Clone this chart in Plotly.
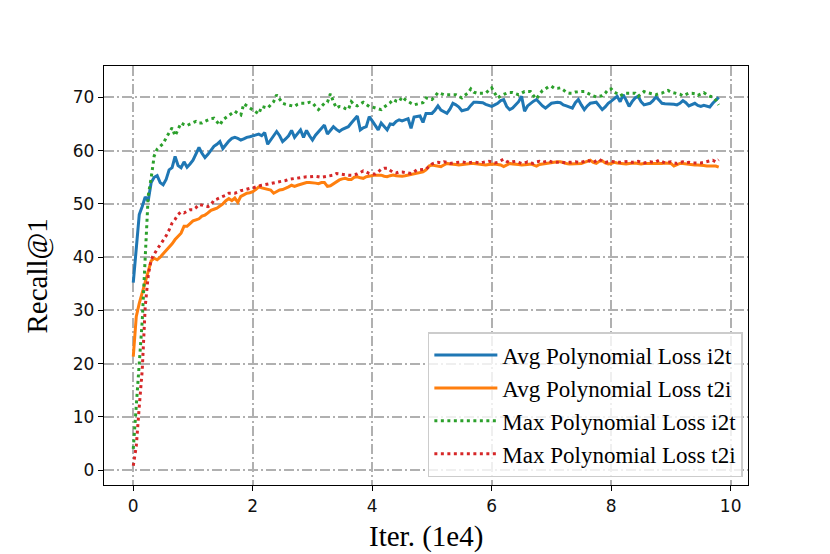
import numpy as np
import plotly.graph_objects as go

# iterations (x 1e4), one reading every 500 iterations
iters = np.round(np.arange(0, 9.81, 0.05), 2)

avg_i2t = [
    35.2, 42.5, 48.0, 49.5, 51.3, 50.6, 54.0, 55.0, 55.3, 54.0,
    53.6, 54.6, 56.4, 56.8, 58.9, 57.2, 56.8, 57.9, 56.9, 57.5,
    58.2, 59.4, 60.6, 59.5, 58.7, 59.3, 60.1, 60.8, 61.2, 61.7,
    60.4, 61.2, 61.8, 62.3, 62.5, 62.3, 62.0, 62.2, 62.5, 62.6,
    62.8, 62.9, 63.1, 62.8, 63.4, 61.2, 62.0, 62.6, 63.6, 62.8,
    61.7, 62.2, 62.8, 63.8, 62.5, 63.2, 63.9, 62.5, 63.8, 62.8,
    62.0, 62.9, 63.5, 64.3, 64.8, 63.1, 63.8, 64.5, 64.0, 63.6,
    64.0, 64.2, 64.5, 65.2, 65.8, 66.5, 63.9, 64.3, 64.5, 66.4,
    65.6, 64.8, 63.9, 65.2, 64.6, 63.9, 65.0, 64.9, 65.5, 65.8,
    65.6, 65.8, 66.0, 64.2, 66.3, 66.4, 66.5, 65.3, 67.0, 67.0,
    67.0, 67.6, 68.4, 67.6, 67.3, 67.0, 67.8, 68.9, 68.6, 68.2,
    67.5, 67.6, 67.8, 68.5, 69.1, 69.1, 69.1, 69.0, 68.7, 68.5,
    68.3, 68.6, 68.9, 69.4, 69.6, 68.3, 67.7, 68.0, 68.6, 69.2,
    70.2, 67.4, 68.4, 68.9, 69.3, 69.6, 68.9, 68.4, 68.0, 68.4,
    68.9, 69.0, 69.1, 69.0, 68.6, 68.4, 68.2, 68.0, 69.0, 69.6,
    68.6, 67.7, 68.4, 68.9, 69.0, 69.1, 68.4, 67.7, 68.2, 68.9,
    69.3, 69.8, 70.2, 69.2, 70.5, 69.5, 68.3, 69.2, 69.9, 70.2,
    69.2, 68.6, 68.7, 68.9, 69.4, 70.1, 69.5, 68.9, 68.8, 68.8,
    68.8, 68.7, 68.6, 68.9, 69.4, 69.0, 68.4, 68.7, 68.9, 68.5,
    68.3, 68.5, 68.4, 68.2, 68.9, 69.4, 70.0,
]

avg_t2i = [
    21.3, 28.8, 31.3, 33.2, 35.5, 37.3, 39.3, 39.8, 39.5, 40.0,
    40.6, 41.1, 41.7, 42.5, 43.3, 44.0, 44.5, 45.8, 45.8, 46.3,
    46.8, 47.0, 47.2, 47.7, 47.9, 48.3, 48.8, 49.0, 49.2, 49.6,
    50.0, 50.6, 51.0, 50.6, 51.1, 50.3, 51.4, 51.7, 52.0, 52.1,
    52.3, 52.7, 53.2, 53.0, 52.9, 52.7, 52.6, 52.0, 52.3, 52.6,
    52.7, 52.9, 53.2, 53.5, 53.3, 53.5, 53.7, 53.8, 54.0, 54.0,
    54.0, 53.9, 53.8, 54.0, 54.0, 53.3, 53.4, 53.8, 54.2, 54.5,
    54.7, 54.8, 54.6, 54.6, 55.0, 55.1, 54.9, 54.8, 55.1, 55.2,
    55.4, 55.4, 55.4, 55.4, 55.2, 55.1, 55.3, 55.4, 55.3, 55.2,
    55.2, 55.3, 55.4, 55.5, 55.6, 55.7, 55.8, 56.0, 56.4, 57.1,
    57.3, 57.2, 57.1, 57.0, 57.3, 57.6, 57.5, 57.5, 57.4, 57.3,
    57.4, 57.5, 57.5, 57.6, 57.6, 57.5, 57.5, 57.4, 57.3, 57.4,
    57.5, 57.5, 57.4, 57.3, 57.0, 57.3, 57.6, 57.5, 57.5, 57.4,
    57.3, 57.3, 57.4, 57.5, 57.3, 57.1, 57.4, 57.5, 57.6, 57.7,
    57.8, 57.9, 57.9, 57.9, 57.7, 57.6, 57.5, 57.5, 57.5, 57.6,
    57.6, 57.8, 58.0, 58.2, 57.8, 57.6, 58.0, 58.1, 57.7, 57.5,
    57.6, 57.8, 57.7, 57.6, 57.5, 57.5, 57.6, 57.7, 57.7, 57.6,
    57.5, 57.6, 57.6, 57.6, 57.5, 57.5, 57.6, 57.6, 57.7, 57.7,
    57.6, 57.1, 57.3, 57.6, 57.6, 57.5, 57.5, 57.4, 57.3, 57.3,
    57.3, 57.2, 57.1, 57.1, 57.2, 57.1, 56.9,
]

max_i2t = [
    4.0, 12.5, 20.7, 28.0, 40.0, 51.5, 54.9, 59.0, 60.3, 60.8,
    61.3, 62.4, 63.5, 64.3, 62.8, 64.0, 65.2, 64.9, 64.7, 65.0,
    65.3, 65.5, 65.2, 65.2, 65.5, 65.8, 66.0, 66.1, 65.5, 64.8,
    65.8, 66.2, 66.7, 67.1, 67.4, 67.0, 66.7, 68.8, 68.4, 68.0,
    67.6, 67.2, 66.9, 68.3, 68.1, 68.0, 68.6, 69.2, 70.5, 69.7,
    68.9, 68.7, 68.6, 68.4, 68.3, 68.7, 68.9, 68.9, 68.9, 69.1,
    69.0, 68.3, 67.7, 68.3, 68.9, 69.1, 70.7, 69.2, 68.0, 68.3,
    68.2, 67.9, 67.7, 69.2, 68.6, 68.4, 68.8, 69.1, 68.7, 68.3,
    68.2, 68.0, 67.9, 67.7, 68.2, 68.6, 69.0, 69.6, 69.3, 69.2,
    70.1, 69.6, 69.2, 68.9, 68.6, 68.8, 68.9, 69.0, 69.9, 69.8,
    69.6, 70.2, 70.9, 70.7, 70.5, 70.5, 70.5, 70.5, 70.5, 70.2,
    69.9, 70.4, 70.8, 71.6, 71.0, 70.8, 70.8, 70.8, 70.8, 71.3,
    71.8, 70.8, 69.9, 70.3, 70.6, 70.8, 70.9, 70.9, 70.7, 70.5,
    70.8, 71.1, 71.1, 71.1, 70.3, 69.7, 70.6, 71.3, 71.6, 72.0,
    72.1, 71.7, 71.7, 71.8, 71.4, 70.9, 70.8, 70.8, 71.0, 71.1,
    71.1, 71.1, 70.8, 70.5, 70.3, 70.1, 70.2, 70.3, 70.8, 71.5,
    71.6, 71.0, 70.7, 70.3, 70.6, 70.8, 70.8, 70.8, 70.8, 70.2,
    70.6, 71.1, 70.9, 70.8, 70.6, 70.5, 70.7, 70.8, 71.1, 71.3,
    71.0, 70.9, 70.8, 70.6, 70.3, 70.6, 70.8, 70.8, 70.7, 70.4,
    70.6, 70.9, 70.5, 70.2, 70.1, 69.5, 68.6,
]

max_t2i = [
    0.8, 4.5, 11.9, 18.8, 30.7, 36.5, 39.6, 40.7, 41.5, 42.3,
    43.1, 44.0, 45.1, 46.4, 47.1, 48.0, 48.5, 48.3, 48.6, 48.9,
    48.9, 49.3, 49.9, 49.8, 49.6, 49.5, 49.8, 50.7, 50.9, 51.2,
    51.4, 51.6, 52.0, 52.0, 52.0, 52.2, 52.5, 52.6, 52.8, 52.9,
    53.0, 53.2, 53.3, 53.5, 53.6, 53.7, 53.8, 54.0, 54.0, 54.2,
    54.3, 54.4, 54.6, 54.7, 54.8, 54.9, 55.0, 55.0, 55.1, 55.1,
    55.2, 55.2, 55.1, 55.0, 55.1, 55.2, 55.3, 55.4, 55.7, 55.6,
    55.5, 55.4, 55.4, 55.4, 55.5, 55.6, 55.9, 56.2, 56.0, 55.7,
    55.6, 55.6, 56.0, 56.5, 56.7, 56.7, 56.3, 55.9, 55.8, 56.0,
    56.0, 55.9, 55.8, 55.7, 56.0, 56.4, 56.4, 56.5, 56.5, 57.0,
    57.5, 57.7, 57.8, 57.7, 57.9, 57.8, 57.6, 57.7, 57.8, 57.8,
    57.9, 57.8, 57.7, 57.8, 57.9, 57.8, 57.7, 57.8, 57.9, 58.0,
    57.9, 57.7, 57.8, 58.1, 58.4, 58.0, 57.8, 57.9, 58.0, 57.8,
    57.6, 57.7, 57.9, 57.7, 57.6, 57.9, 58.0, 57.8, 57.9, 58.1,
    57.9, 57.8, 57.8, 57.9, 57.8, 57.7, 57.8, 57.9, 57.9, 57.8,
    57.8, 58.0, 58.2, 58.0, 57.8, 58.1, 58.4, 58.0, 57.8, 57.9,
    58.0, 57.9, 57.8, 57.8, 57.9, 58.0, 58.0, 57.8, 57.9, 58.0,
    57.8, 57.7, 57.8, 57.9, 57.8, 57.9, 58.2, 57.9, 57.7, 57.8,
    57.9, 57.7, 57.6, 57.8, 57.9, 57.7, 57.8, 57.7, 57.7, 57.6,
    57.7, 57.8, 57.9, 58.1, 58.2, 57.9, 58.3,
]

series = [
    ("Avg Polynomial Loss i2t", avg_i2t, "#1f77b4", "solid"),
    ("Avg Polynomial Loss t2i", avg_t2i, "#ff7f0e", "solid"),
    ("Max Polynomial Loss i2t", max_i2t, "#2ca02c", "3px,3.5px"),
    ("Max Polynomial Loss t2i", max_t2i, "#d62728", "3px,3.5px"),
]

fig = go.Figure()
for name, vals, color, dash in series:
    assert len(vals) == len(iters), name
    fig.add_trace(go.Scatter(
        x=iters, y=vals, name=name, mode="lines",
        line=dict(color=color, width=3, dash=dash),
    ))

grid = dict(
    showgrid=True, gridcolor="#b0b0b0", gridwidth=1.8,
    griddash="10px,3px,2px,3px",
    showline=True, linecolor="black", linewidth=1.4, mirror=True,
    ticks="outside", ticklen=5, tickwidth=1.4, tickcolor="black",
    zeroline=False,
    tickfont=dict(family="DejaVu Sans", size=17, color="#111"),
)

fig.update_xaxes(range=[-0.49, 10.29], tickvals=[0, 2, 4, 6, 8, 10], **grid)
fig.update_yaxes(range=[-2.8, 75.9], tickvals=[0, 10, 20, 30, 40, 50, 60, 70], **grid)

# the page body adds an 8px offset, so the figure is 8px smaller than the window
fig.update_layout(
    width=822, height=546,
    margin=dict(l=96, r=82, t=58, b=69),
    paper_bgcolor="white", plot_bgcolor="white",
    showlegend=True,
    legend=dict(
        x=0.992, xanchor="right", y=0.019, yanchor="bottom",
        bgcolor="rgba(255,255,255,0.8)", bordercolor="#cccccc", borderwidth=1.5,
        font=dict(family="Liberation Serif", size=23, color="black"),
        itemwidth=63,
    ),
    annotations=[
        dict(text="Recall@1", xref="paper", yref="paper", x=-0.1025, y=0.5,
             textangle=-90, showarrow=False, xanchor="center", yanchor="middle",
             font=dict(family="Liberation Serif", size=29, color="black")),
        dict(text="Iter. (1e4)", xref="paper", yref="paper", x=0.5, y=-0.124,
             showarrow=False, xanchor="center", yanchor="middle",
             font=dict(family="Liberation Serif", size=29, color="black")),
    ],
)

fig.write_html("out.html")
